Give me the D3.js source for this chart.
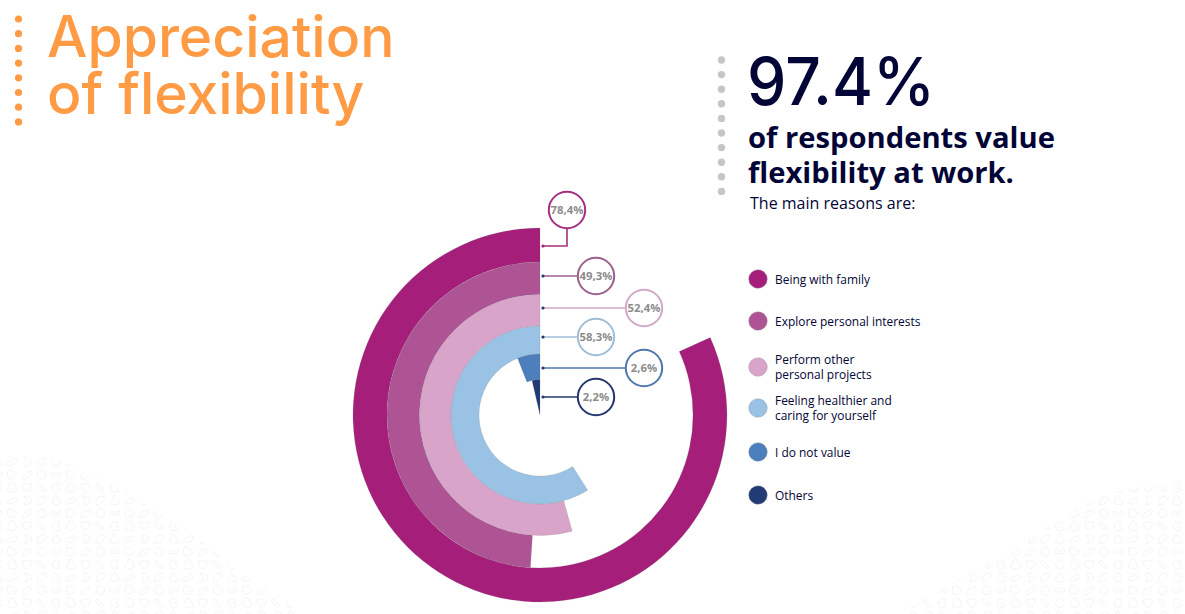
<!DOCTYPE html>
<html>
<head>
    <title>Appreciation of flexibility</title>
    <style>
        html, body { margin: 0; padding: 0; background: #fff; overflow: hidden; }
        svg { display: block; }
    </style>
</head>
<body>
<div id="chart"></div>

<script src="https://cdnjs.cloudflare.com/ajax/libs/d3/7.8.5/d3.min.js"></script>
<script>
    // categories and the printed labels
    var categories = ['Being with family', 'Explore personal interests', 'Perform other\npersonal projects',
        'Feeling healthier and\ncaring for yourself', 'I do not value', 'Others'];
    var printedLabels = ['78,4%', '49,3%', '52,4%', '58,3%', '2,6%', '2,2%'];
    // share of the circle each ring really sweeps in the picture (it differs from the printed number)
    var sweepShare = [81.8, 49.0, 54.3, 59.0, 6.0, 3.6];
    var colors = ['#a51e7a', '#ae5394', '#d9a4c9', '#9ac2e5', '#4c7fbc', '#223a75'];
    var calloutColors = ['#a5307f', '#9c5f8f', '#d3a9c6', '#9fbdd8', '#4f79ab', '#24386e'];

    // layout
    var width = 1185, height = 614;
    var cx = 540, cy = 415;
    var ringEdges = [187, 153, 120.5, 89, 61, 35.5, 0];
    var calloutX = [567, 596, 644, 596, 644, 596];
    var calloutY = [210, 276, 308, 337, 368, 397];
    var leaderY = [246, 276, 308, 337, 368, 397];
    var legendY = [279, 321, 367, 408, 452, 495];
    var navy = '#020535';

    var svg = d3.select('#chart').append('svg').attr('width', width).attr('height', height);
    var defs = svg.append('defs');

    // faint blob wallpaper in the two bottom corners
    var tileRows = [
        ['M-6,2C-4,-1 -1,-1 1,-3C4,-5 6,-3 5,0C4,3 -1,4 -4,4C-6,4 -7,3 -6,2Z',
            'M-3,-5C2,-6 6,-2 5,1C4,4 0,6 -3,5C-1,3 0,1 -1,-1C-1,-2 -3,-3 -3,-5Z',
            'M-5,5C-6,1 -3,-5 2,-5C5,-5 6,-3 4,0C2,3 -1,6 -5,5Z',
            'M-1,-6C1,-6 1,-3 3,-1C5,1 6,4 3,5C0,5 -4,5 -5,3C-6,1 -3,-1 -3,-3C-3,-5 -2,-6 -1,-6Z'],
        ['M-5,-5C-1,-6 5,-2 5,0C5,3 -1,5 -3,5C-6,5 -6,-4 -5,-5Z',
            'M-6,4C-5,0 0,-4 4,-4C6,-4 6,-2 4,0C2,3 -2,5 -4,5C-5,5 -6,5 -6,4Z',
            'M-1,-5C3,-6 5,-3 5,0C5,3 3,5 0,5C-3,5 -5,2 -5,0C-5,-3 -3,-5 -1,-5Z',
            'M-6,0C-6,-3 -3,-3 -1,-1C1,1 2,-3 4,-3C6,-3 6,1 4,2C2,3 1,1 -1,2C-3,3 -6,3 -6,0Z'],
        ['M0,-6C3,-6 3,-2 5,1C6,4 3,5 0,5C-3,5 -6,4 -5,1C-4,-2 -3,-6 0,-6Z',
            'M-5,-4C-2,-5 3,-5 5,-4C6,-1 3,4 0,5C-3,4 -6,0 -5,-4Z',
            'M-5,-4C-3,-6 -2,-4 -1,-2C0,0 3,0 4,2C5,4 2,5 1,4C-1,3 -3,1 -4,0C-5,-1 -6,-3 -5,-4Z',
            'M2,-5C-2,-6 -5,-3 -5,0C-5,3 -2,6 2,5C5,4 5,2 3,1C1,0 1,-1 3,-2C5,-3 4,-5 2,-5Z']
    ];

    function addBlobs(id, clipShape, fromX, toX, phase) {
        defs.append('clipPath').attr('id', id).append('path').attr('d', clipShape);
        var g = svg.append('g').attr('clip-path', 'url(#' + id + ')')
                .attr('fill', 'none').attr('stroke', '#ededed').attr('stroke-width', 0.7);
        d3.range(0, 13).forEach(function (row) {
            d3.range(fromX, toX).forEach(function (col) {
                g.append('path')
                        .attr('d', tileRows[row % 3][((col % 4) + 4) % 4])
                        .attr('transform', 'translate(' + (phase + col * 14.67) + ',' + (462 + row * 12.83) + ') scale(0.85)');
            });
        });
    }
    addBlobs('blobsLeft', 'M0,445L20,446L60,461L97,478L127,491L157,512L200,539L233,566L296,610L296,614L0,614Z', -1, 21, 12.3);
    addBlobs('blobsRight', 'M1185,482L1118,490L1085,503L1045,528L1005,553L958,580L905,610L905,614L1185,614Z', 60, 82, 18.3);

    // dotted rules beside the headings
    svg.append('g').selectAll('circle').data(d3.range(8)).enter().append('circle')
            .attr('cx', 18.5).attr('cy', function (i) { return 19 + i * 14.7; })
            .attr('r', 3.6).attr('fill', '#ff9a45');
    svg.append('g').selectAll('circle').data(d3.range(10)).enter().append('circle')
            .attr('cx', 721.5).attr('cy', function (i) { return 60 + i * 14.6; })
            .attr('r', 3.7).attr('fill', '#c6c6c6');

    // headings
    var title = svg.append('text')
            .attr('font-family', 'Inter').attr('font-weight', 500).attr('font-size', 57).attr('fill', '#ff9a45');
    title.selectAll('tspan').data(['Appreciation', 'of flexibility']).enter().append('tspan')
            .attr('x', 47).attr('y', function (d, i) { return 57 + i * 57; })
            .text(function (d) { return d; });

    svg.append('text').attr('x', 747).attr('y', 105)
            .attr('font-family', 'Inter').attr('font-size', 66).attr('font-weight', 500).attr('fill', navy)
            .attr('textLength', 188).attr('lengthAdjust', 'spacingAndGlyphs')
            .text('97.4%');

    var lead = svg.append('text')
            .attr('font-family', 'Open Sans').attr('font-weight', 700).attr('font-size', 29.2).attr('fill', navy);
    lead.selectAll('tspan').data(['of respondents value', 'flexibility at work.']).enter().append('tspan')
            .attr('x', 748).attr('y', function (d, i) { return 148 + i * 35; })
            .text(function (d) { return d; });

    svg.append('text').attr('x', 750).attr('y', 209)
            .attr('font-family', 'Open Sans').attr('font-size', 16).attr('fill', navy)
            .text('The main reasons are:');

    // rings, drawn counterclockwise from twelve o'clock
    var angle = d3.scaleLinear().domain([0, 100]).range([0, -2 * Math.PI]);
    var arc = d3.arc();

    svg.append('g').attr('transform', 'translate(' + cx + ',' + cy + ')')
            .selectAll('path').data(sweepShare).enter().append('path')
            .attr('d', function (v, i) {
                return arc({innerRadius: ringEdges[i + 1], outerRadius: ringEdges[i], startAngle: 0, endAngle: angle(v)});
            })
            .attr('fill', function (v, i) { return colors[i]; })
            .attr('stroke', '#777').attr('stroke-width', 0.3).attr('stroke-opacity', 0.6);

    // callouts
    var callouts = svg.append('g').selectAll('g').data(printedLabels).enter().append('g');

    callouts.append('path')
            .attr('d', function (d, i) {
                var line = d3.path();
                line.moveTo(543, leaderY[i]);
                line.lineTo(calloutX[i], leaderY[i]);
                line.lineTo(calloutX[i], calloutY[i]);
                return line.toString();
            })
            .attr('fill', 'none').attr('stroke-width', 1.6)
            .attr('stroke', function (d, i) { return calloutColors[i]; });

    callouts.append('circle')
            .attr('cx', 543).attr('cy', function (d, i) { return leaderY[i]; })
            .attr('r', 1.6).attr('fill', function (d, i) { return i ? '#24386e' : colors[0]; });

    callouts.append('circle')
            .attr('cx', function (d, i) { return calloutX[i]; })
            .attr('cy', function (d, i) { return calloutY[i]; })
            .attr('r', 18.2).attr('fill', '#fff').attr('stroke-width', 2)
            .attr('stroke', function (d, i) { return calloutColors[i]; });

    callouts.append('text')
            .attr('x', function (d, i) { return calloutX[i]; })
            .attr('y', function (d, i) { return calloutY[i] + 4; })
            .attr('text-anchor', 'middle')
            .attr('font-family', 'Open Sans').attr('font-weight', 700).attr('font-size', 11.3).attr('fill', '#8c8c8c')
            .text(function (d) { return d; });

    // legend
    var legend = svg.append('g').selectAll('g').data(categories).enter().append('g');

    legend.append('circle')
            .attr('cx', 758).attr('cy', function (d, i) { return legendY[i]; })
            .attr('r', 9.3).attr('fill', function (d, i) { return colors[i]; })
            .attr('stroke', '#999').attr('stroke-width', 0.4);

    legend.each(function (d, i) {
        var lines = d.split('\n');
        d3.select(this).selectAll('text').data(lines).enter().append('text')
                .attr('x', 775)
                .attr('y', function (l, k) { return legendY[i] + 4.5 + (k - (lines.length - 1) / 2) * 15; })
                .attr('font-family', 'Open Sans').attr('font-size', 11.95).attr('fill', navy)
                .text(function (l) { return l; });
    });
</script>

</body>
</html>
